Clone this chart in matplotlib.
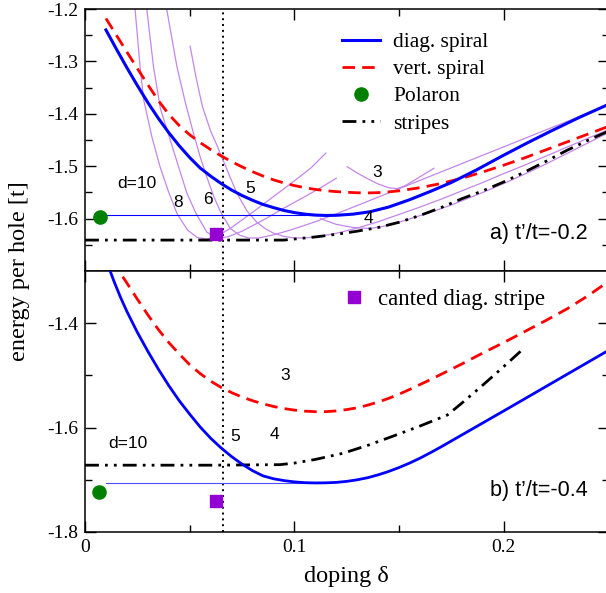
import matplotlib
matplotlib.use("Agg")
import matplotlib.pyplot as plt
from matplotlib.lines import Line2D
from matplotlib.ticker import MultipleLocator, FixedLocator

plt.rcParams["font.family"] = ["Liberation Serif", "DejaVu Serif"]
plt.rcParams["axes.unicode_minus"] = False

SANS = ["Liberation Sans", "DejaVu Sans"]
BLUE, RED, GREEN, PURPLE, LILAC = "#0000FF", "#FF0000", "#008000", "#9400D3", "#C486EA"

# ── panel a) t'/t = -0.2 ────────────────────────────────────────────────
a_diag_x = [0.010, 0.015, 0.020, 0.025, 0.030, 0.035, 0.040, 0.045, 0.050, 0.055, 0.060, 0.065,
            0.070, 0.075, 0.080, 0.085, 0.090, 0.095, 0.100, 0.105, 0.110, 0.115, 0.120, 0.128,
            0.136, 0.145, 0.155, 0.165, 0.175, 0.187, 0.199, 0.211, 0.2225, 0.236, 0.25]
a_diag_e = [-1.240, -1.2765, -1.312, -1.346, -1.3785, -1.4085, -1.436, -1.461, -1.4835, -1.5035, -1.519, -1.533,
            -1.5455, -1.556, -1.565, -1.573, -1.579, -1.5845, -1.5885, -1.5915, -1.5933, -1.594, -1.5937, -1.5915,
            -1.587, -1.578, -1.564, -1.548, -1.531, -1.507, -1.481, -1.456, -1.433, -1.407, -1.382]

a_vert_x = [0.010, 0.015, 0.020, 0.025, 0.030, 0.035, 0.040, 0.045, 0.050, 0.055, 0.060, 0.065,
            0.070, 0.075, 0.080, 0.085, 0.090, 0.095, 0.100, 0.105, 0.110, 0.115, 0.120, 0.125,
            0.130, 0.135, 0.140, 0.145, 0.150, 0.160, 0.170, 0.180, 0.190, 0.200, 0.210, 0.220,
            0.230, 0.240, 0.250]
a_vert_e = [-1.218, -1.250, -1.282, -1.3135, -1.3445, -1.3745, -1.401, -1.4225, -1.440, -1.455, -1.4683, -1.4803,
            -1.4913, -1.5013, -1.5105, -1.5188, -1.526, -1.532, -1.537, -1.541, -1.5443, -1.5468, -1.5485, -1.5498,
            -1.5507, -1.551, -1.5505, -1.549, -1.547, -1.541, -1.533, -1.523, -1.511, -1.498, -1.484, -1.469,
            -1.454, -1.439, -1.424]

a_stripe_x = [0.0, 0.03, 0.06, 0.095, 0.100, 0.110, 0.120, 0.130, 0.140, 0.150, 0.160, 0.170,
              0.180, 0.190, 0.200, 0.210, 0.220, 0.230, 0.240, 0.250]
a_stripe_e = [-1.641, -1.641, -1.641, -1.641, -1.639, -1.635, -1.630, -1.624, -1.617, -1.607, -1.594, -1.579,
              -1.562, -1.547, -1.530, -1.511, -1.491, -1.470, -1.451, -1.433]

# stripe energies for fixed stripe distance d
d10_x = [0.0239, 0.0263, 0.028, 0.032, 0.0359, 0.040, 0.044, 0.049, 0.0536, 0.058, 0.063,
         0.070, 0.080, 0.090, 0.100, 0.108, 0.115]
d10_e = [-1.20, -1.31, -1.373, -1.445, -1.502, -1.55, -1.591, -1.622, -1.636, -1.639, -1.634,
         -1.617, -1.588, -1.558, -1.528, -1.503, -1.475]
d8_x = [0.0295, 0.0327, 0.036, 0.0407, 0.045, 0.0487, 0.053, 0.0582, 0.063, 0.068, 0.075,
        0.085, 0.095, 0.105, 0.113, 0.120]
d8_e = [-1.20, -1.31, -1.39, -1.45, -1.505, -1.552, -1.59, -1.626, -1.637, -1.635, -1.624,
        -1.603, -1.580, -1.558, -1.540, -1.523]
d6_x = [0.039, 0.0439, 0.048, 0.0518, 0.055, 0.0582, 0.0615, 0.0646, 0.0694, 0.074, 0.078, 0.083,
        0.090, 0.098, 0.110, 0.120, 0.130, 0.140, 0.150, 0.160, 0.170, 0.180, 0.190, 0.200,
        0.210, 0.220, 0.230, 0.240, 0.250]
d6_e = [-1.20, -1.31, -1.38, -1.437, -1.482, -1.521, -1.558, -1.586, -1.619, -1.632, -1.637, -1.637,
        -1.631, -1.622, -1.606, -1.591, -1.575, -1.559, -1.543, -1.527, -1.511, -1.495, -1.479, -1.463,
        -1.447, -1.431, -1.415, -1.399, -1.383]
d5_x = [0.0502, 0.053, 0.056, 0.060, 0.063, 0.0694, 0.0726, 0.0773, 0.0821, 0.086, 0.0901, 0.095,
        0.100, 0.105, 0.112, 0.120, 0.130, 0.140, 0.150, 0.160, 0.170, 0.180, 0.190, 0.200,
        0.210, 0.220, 0.230, 0.240, 0.250]
d5_e = [-1.271, -1.33, -1.385, -1.433, -1.46, -1.522, -1.552, -1.585, -1.607, -1.619, -1.628, -1.634,
        -1.637, -1.637, -1.634, -1.628, -1.618, -1.606, -1.592, -1.578, -1.563, -1.547, -1.531, -1.514,
        -1.498, -1.481, -1.464, -1.447, -1.430]
d4_x = [0.1124, 0.120, 0.128, 0.136, 0.145, 0.1555, 0.165, 0.175, 0.190, 0.200, 0.210, 0.220,
        0.230, 0.240, 0.250]
d4_e = [-1.600, -1.611, -1.617, -1.619, -1.613, -1.600, -1.588, -1.574, -1.550, -1.533, -1.515, -1.496,
        -1.476, -1.456, -1.436]
d3_x = [0.1252, 0.130, 0.135, 0.140, 0.145, 0.149, 0.153, 0.158, 0.1625, 0.1666]
d3_e = [-1.501, -1.513, -1.524, -1.534, -1.541, -1.543, -1.537, -1.525, -1.514, -1.504]

a_maxwell_x, a_maxwell_e = [0.010, 0.113], [-1.594, -1.594]
a_polaron = (0.0072, -1.597)
a_canted = (0.0627, -1.629)

# ── panel b) t'/t = -0.4 ────────────────────────────────────────────────
b_diag_x = [0.012, 0.014, 0.017, 0.020, 0.025, 0.030, 0.035, 0.040, 0.045, 0.050, 0.055, 0.060,
            0.065, 0.070, 0.075, 0.080, 0.085, 0.090, 0.095, 0.100, 0.105, 0.110, 0.115, 0.120,
            0.125, 0.130, 0.135, 0.140, 0.145, 0.150, 0.155, 0.160, 0.165, 0.170, 0.175, 0.180,
            0.190, 0.200, 0.2125, 0.225, 0.2375, 0.250]
b_diag_e = [-1.300, -1.3214, -1.3508, -1.3775, -1.4175, -1.4538, -1.4878, -1.5195, -1.5485, -1.5743, -1.5988, -1.6203,
            -1.639, -1.6555, -1.670, -1.6825, -1.6925, -1.698, -1.7015, -1.704, -1.7055, -1.706, -1.7058, -1.705,
            -1.703, -1.700, -1.696, -1.6905, -1.684, -1.6765, -1.668, -1.6585, -1.648, -1.637, -1.6255, -1.614,
            -1.591, -1.568, -1.539, -1.510, -1.481, -1.452]

b_vert_x = [0.018, 0.020, 0.025, 0.030, 0.035, 0.040, 0.045, 0.050, 0.055, 0.060, 0.065, 0.070,
            0.075, 0.080, 0.085, 0.090, 0.095, 0.100, 0.105, 0.110, 0.115, 0.120, 0.125, 0.130,
            0.135, 0.140, 0.145, 0.150, 0.155, 0.160, 0.165, 0.170, 0.180, 0.190, 0.200, 0.210,
            0.220, 0.230, 0.240, 0.250]
b_vert_e = [-1.311, -1.323, -1.354, -1.384, -1.412, -1.437, -1.459, -1.4795, -1.4965, -1.511, -1.523, -1.533,
            -1.5415, -1.5485, -1.5545, -1.5595, -1.5635, -1.5665, -1.5685, -1.5695, -1.5695, -1.568, -1.5655, -1.562,
            -1.557, -1.551, -1.544, -1.536, -1.527, -1.5175, -1.508, -1.498, -1.478, -1.457, -1.437, -1.416,
            -1.395, -1.373, -1.348, -1.320]

b_stripe_x = [0.0, 0.03, 0.06, 0.093, 0.100, 0.110, 0.1234, 0.135, 0.146, 0.160, 0.173, 0.180,
              0.191, 0.200, 0.2096]
b_stripe_e = [-1.672, -1.672, -1.672, -1.671, -1.668, -1.661, -1.649, -1.634, -1.618, -1.597, -1.576, -1.553,
              -1.515, -1.483, -1.448]

b_maxwell_x, b_maxwell_e = [0.010, 0.111], [-1.706, -1.706]
b_polaron = (0.0067, -1.723)
b_canted = (0.0627, -1.741)

delta_c = 0.066  # dotted vertical line

STRIPE_LS = (0, (5, 2.2, 1, 2.2, 1, 2.2))
DASH_LS = (0, (4.5, 2.6))

W, H = 606, 593
fig = plt.figure(figsize=(W / 100, H / 100), dpi=100)
ax1 = fig.add_axes([85 / W, 1 - 271 / H, 523.5 / W, 262 / H])
ax2 = fig.add_axes([85 / W, 1 - 532 / H, 523.5 / W, 261 / H])

# top panel
for xs, es in [(d10_x, d10_e), (d8_x, d8_e), (d6_x, d6_e), (d5_x, d5_e), (d4_x, d4_e), (d3_x, d3_e)]:
    ax1.plot(xs, es, color=LILAC, lw=0.9, zorder=2)
ax1.plot(a_maxwell_x, a_maxwell_e, color=BLUE, lw=0.8, zorder=3)
ax1.plot(a_stripe_x, a_stripe_e, color="black", lw=2.0, ls=STRIPE_LS, zorder=3)
ax1.plot(a_vert_x, a_vert_e, color=RED, lw=2.0, ls=DASH_LS, zorder=4)
ax1.plot(a_diag_x, a_diag_e, color=BLUE, lw=2.2, zorder=5)
ax1.plot(*a_polaron, "o", color=GREEN, ms=9.5, zorder=6)
ax1.plot(*a_canted, "s", color=PURPLE, ms=8.5, zorder=6)

for txt, x, y in [("d=10", 0.0249, -1.533), ("8", 0.0445, -1.569), ("6", 0.0589, -1.563),
                  ("5", 0.079, -1.542), ("4", 0.1354, -1.600), ("3", 0.1397, -1.512)]:
    ax1.text(x, y, txt, family=SANS, fontsize=12.5, ha="center", va="center", zorder=7)
ax1.text(0.2402, -1.629, "a) t’/t=-0.2", family=SANS, fontsize=15.5, ha="right", va="center")

handles = [Line2D([], [], color=BLUE, lw=2.2),
           Line2D([], [], color=RED, lw=2.0, ls=DASH_LS),
           Line2D([], [], color=GREEN, marker="o", ls="none", ms=9.5),
           Line2D([], [], color="black", lw=2.0, ls=STRIPE_LS)]
ax1.legend(handles, ["diag. spiral", "vert. spiral", "Polaron", "stripes"],
           loc="upper left", bbox_to_anchor=(0.490, 0.912), frameon=False,
           fontsize=15.5, borderpad=0, borderaxespad=0, handlelength=1.8,
           handletextpad=0.6, labelspacing=0.33)

# bottom panel
ax2.plot(b_maxwell_x, b_maxwell_e, color="#4F4FFF", lw=0.8, zorder=3)
ax2.plot(b_stripe_x, b_stripe_e, color="black", lw=2.0, ls=STRIPE_LS, zorder=3)
ax2.plot(b_vert_x, b_vert_e, color=RED, lw=2.0, ls=DASH_LS, zorder=4)
ax2.plot(b_diag_x, b_diag_e, color=BLUE, lw=2.0, zorder=5)
ax2.plot(*b_polaron, "o", color=GREEN, ms=9.5, zorder=6)
ax2.plot(*b_canted, "s", color=PURPLE, ms=8.5, zorder=6)

for txt, x, y in [("d=10", 0.0206, -1.630), ("5", 0.0718, -1.618), ("4", 0.0904, -1.613),
                  ("3", 0.0957, -1.500)]:
    ax2.text(x, y, txt, family=SANS, fontsize=12.5, ha="center", va="center", zorder=7)
ax2.text(0.2402, -1.72, "b) t’/t=-0.4", family=SANS, fontsize=15.5, ha="right", va="center")

ax2.legend([Line2D([], [], color=PURPLE, marker="s", ls="none", ms=8)], ["canted diag. stripe"],
           loc="upper left", bbox_to_anchor=(0.492, 0.93), frameon=False, fontsize=16.5,
           borderpad=0, borderaxespad=0, handlelength=1.0, handletextpad=0.55)

for ax in (ax1, ax2):
    ax.axvline(delta_c, color="black", lw=1.4, ls=(0, (1, 2.0)), zorder=1)
    ax.set_xlim(0, 0.25)
    ax.xaxis.set_major_locator(MultipleLocator(0.1))
    ax.xaxis.set_minor_locator(MultipleLocator(0.05))
    ax.tick_params(which="both", direction="in", top=True, right=True, labelsize=14, pad=5)
    ax.tick_params(which="major", length=8, width=1.0)
    ax.tick_params(which="minor", length=5, width=1.0)
    for s in ax.spines.values():
        s.set_linewidth(1.1)

ax1.set_ylim(-1.70, -1.20)
ax1.yaxis.set_major_locator(FixedLocator([-1.6, -1.5, -1.4, -1.3, -1.2]))
ax1.yaxis.set_minor_locator(FixedLocator([-1.65, -1.55, -1.45, -1.35, -1.25]))
ax1.tick_params(labelbottom=False)

ax2.set_ylim(-1.80, -1.30)
ax2.yaxis.set_major_locator(FixedLocator([-1.8, -1.6, -1.4]))
ax2.yaxis.set_minor_locator(FixedLocator([-1.7, -1.5]))
ax2.xaxis.set_major_formatter(plt.FuncFormatter(lambda v, p: "0" if abs(v) < 1e-9 else f"{v:g}"))
ax2.set_xlabel("doping δ", fontsize=17.5, labelpad=7)

fig.text(20 / W, 1 - 271 / H, "energy per hole [t]", rotation=90, fontsize=17.5,
         ha="center", va="center")

fig.savefig("out.png", dpi=100)
